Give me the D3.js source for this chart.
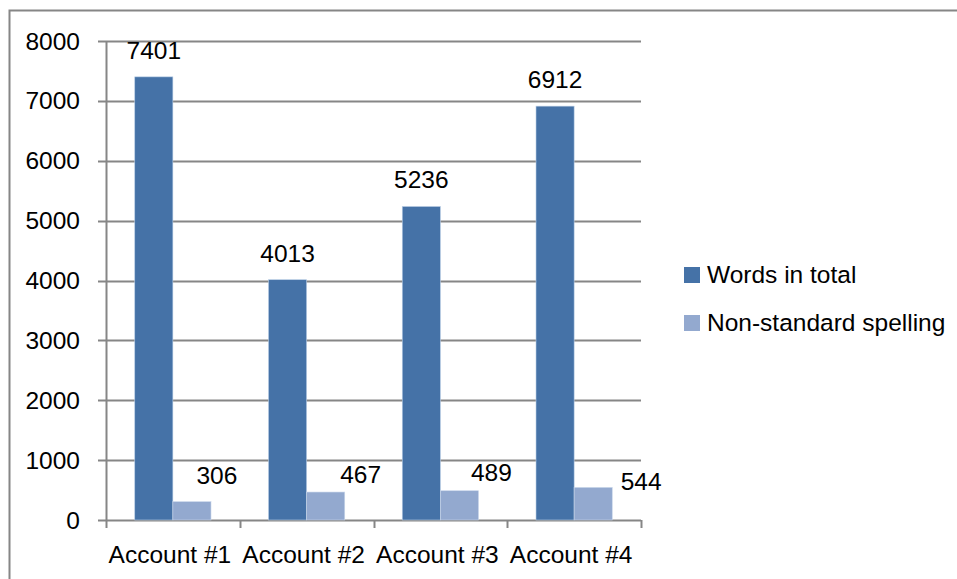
<!DOCTYPE html>
<html>
<head>
<meta charset="utf-8">
<script src="https://cdn.jsdelivr.net/npm/d3@7"></script>
<style>
  body { margin: 0; background: #fff; }
  svg text { font-family: "Liberation Sans", Arial, sans-serif; fill: #000; font-size: 24.5px; }
</style>
</head>
<body>
<div id="chart"></div>
<script>
// chart data
var categories = ["Account #1", "Account #2", "Account #3", "Account #4"];
var seriesNames = ["Words in total", "Non-standard spelling"];
var wordsTotal = [7401, 4013, 5236, 6912];
var nonStandard = [306, 467, 489, 544];
var yTicks = [0, 1000, 2000, 3000, 4000, 5000, 6000, 7000, 8000];
// manual nudges of the small-bar labels (they were dragged in the original)
var labelNudgeX = [25, 35, 32, 48];
var labelNudgeY = [-18, -9, -10, 3];

var colors = ["#4572a7", "#93a9cf"];
var width = 957, height = 579;
var margin = { top: 41, left: 106, right: 316, bottom: 59 };
var plotW = width - margin.left - margin.right;
var plotH = height - margin.top - margin.bottom;

var svg = d3.select("#chart")
    .append("svg")
    .attr("width", width)
    .attr("height", height);

// outer chart frame (only top and left show in the crop)
svg.append("rect")
    .attr("x", 9.5).attr("y", 10.5)
    .attr("width", 1000).attr("height", 600)
    .attr("fill", "none")
    .attr("stroke", "#868686")
    .attr("stroke-width", 2);

var g = svg.append("g")
    .attr("transform", "translate(" + margin.left + "," + margin.top + ")");

var y = d3.scaleLinear().domain([0, 8000]).range([plotH, 0]);
var x0 = d3.scaleBand().domain(categories).range([0, plotW]).paddingInner(0.43).paddingOuter(0.215);
var x1 = d3.scaleBand().domain([0, 1]).range([0, x0.bandwidth()]);
var xEdge = d3.scaleLinear().domain([0, categories.length]).range([0, plotW]);

// gridlines + y axis ticks
g.selectAll(".grid")
    .data(yTicks)
    .enter()
    .append("line")
    .attr("x1", -8)
    .attr("x2", plotW)
    .attr("y1", function (d) { return Math.round(y(d)) + 0.5; })
    .attr("y2", function (d) { return Math.round(y(d)) + 0.5; })
    .attr("stroke", "#868686")
    .attr("stroke-width", 2);

g.selectAll(".ylab")
    .data(yTicks)
    .enter()
    .append("text")
    .attr("x", -26)
    .attr("y", function (d) { return y(d); })
    .attr("dy", "0.35em")
    .attr("text-anchor", "end")
    .text(function (d) { return d; });

// bars
var groups = g.selectAll(".grp")
    .data(categories)
    .enter()
    .append("g")
    .attr("transform", function (d) { return "translate(" + x0(d) + ",0)"; });

groups.append("rect")
    .attr("x", x1(0))
    .attr("width", x1.bandwidth())
    .attr("y", function (d, i) { return y(wordsTotal[i]); })
    .attr("height", function (d, i) { return plotH - y(wordsTotal[i]); })
    .attr("fill", colors[0])
    .attr("stroke", "#b9cde5")
    .attr("stroke-width", 0.6);

groups.append("rect")
    .attr("x", x1(1))
    .attr("width", x1.bandwidth())
    .attr("y", function (d, i) { return y(nonStandard[i]); })
    .attr("height", function (d, i) { return plotH - y(nonStandard[i]); })
    .attr("fill", colors[1])
    .attr("stroke", "#c9d6ea")
    .attr("stroke-width", 0.6);

// value labels
groups.append("text")
    .attr("x", x1(0) + x1.bandwidth() / 2)
    .attr("y", function (d, i) { return y(wordsTotal[i]) - 18; })
    .attr("text-anchor", "middle")
    .text(function (d, i) { return wordsTotal[i]; });

groups.append("text")
    .attr("x", function (d, i) { return x1(1) + x1.bandwidth() / 2 + labelNudgeX[i]; })
    .attr("y", function (d, i) { return y(nonStandard[i]) + labelNudgeY[i]; })
    .attr("text-anchor", "middle")
    .text(function (d, i) { return nonStandard[i]; });

// y axis line
g.append("line")
    .attr("x1", 0.5).attr("x2", 0.5)
    .attr("y1", 0).attr("y2", plotH)
    .attr("stroke", "#868686")
    .attr("stroke-width", 2);

// x axis ticks at category edges
g.selectAll(".xtick")
    .data(d3.range(categories.length + 1))
    .enter()
    .append("line")
    .attr("x1", function (d) { return Math.round(xEdge(d)) + 0.5; })
    .attr("x2", function (d) { return Math.round(xEdge(d)) + 0.5; })
    .attr("y1", plotH)
    .attr("y2", plotH + 8)
    .attr("stroke", "#868686")
    .attr("stroke-width", 2);

g.selectAll(".xlab")
    .data(categories)
    .enter()
    .append("text")
    .attr("x", function (d) { return x0(d) + x0.bandwidth() / 2 - 3; })
    .attr("y", plotH + 43)
    .attr("text-anchor", "middle")
    .text(function (d) { return d; });

// legend
var legend = svg.selectAll(".leg")
    .data(seriesNames)
    .enter()
    .append("g")
    .attr("transform", function (d, i) { return "translate(684," + (267 + i * 48) + ")"; });

legend.append("rect")
    .attr("width", 16)
    .attr("height", 16)
    .attr("fill", function (d, i) { return colors[i]; });

legend.append("text")
    .attr("x", 23)
    .attr("y", 16)
    .text(function (d) { return d; });
</script>
</body>
</html>
